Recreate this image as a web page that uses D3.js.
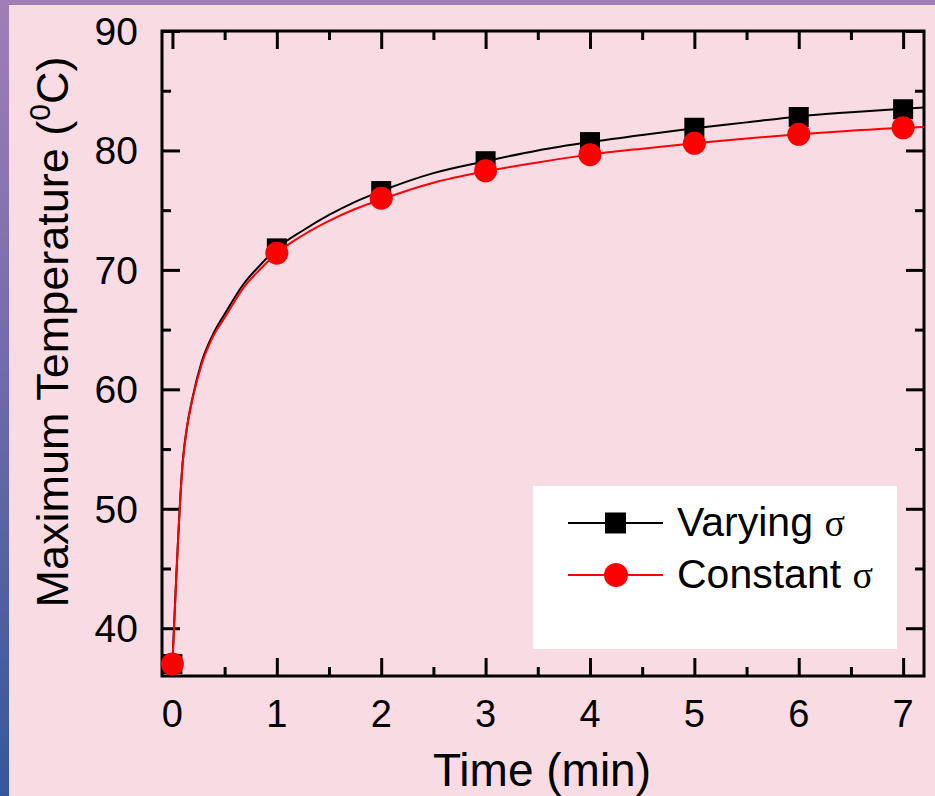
<!DOCTYPE html>
<html>
<head>
<meta charset="utf-8">
<title>Maximum Temperature</title>
<script src="https://cdn.jsdelivr.net/npm/d3@7/dist/d3.min.js"></script>
<style>
  body { margin: 0; background: #fff; }
  svg { display: block; }
</style>
</head>
<body>
<div id="viz"></div>
<script>
// marker data (integer minutes)
var times = [0, 1, 2, 3, 4, 5, 6, 7];
var varyingMarks = [37, 71.8, 76.6, 79.1, 80.7, 81.9, 82.8, 83.45];
var constantMarks = [37, 71.4, 76.0, 78.3, 79.65, 80.6, 81.35, 81.9];

// fine curve data
var curveTimes = [0, 0.1, 0.14, 0.19, 0.28, 0.4, 0.5, 0.68, 0.84, 1.0, 1.25, 1.5, 1.75, 2.0, 2.5, 3.0, 3.5, 4.0, 4.5, 5.0, 5.5, 6.0, 6.5, 7.0, 7.2];
var varyingCurve = [37, 54.1, 56.9, 59.2, 62.3, 64.8, 66.3, 68.8, 70.4, 71.8, 73.3, 74.6, 75.7, 76.6, 78.1, 79.1, 80.0, 80.7, 81.3, 81.85, 82.35, 82.85, 83.2, 83.5, 83.6];
var constantCurve = [37, 54.0, 56.8, 59.1, 62.1, 64.6, 66.0, 68.5, 70.05, 71.4, 72.9, 74.1, 75.1, 75.9, 77.3, 78.25, 79.0, 79.65, 80.15, 80.6, 81.0, 81.35, 81.65, 81.9, 81.97];

var xMajor = [0, 1, 2, 3, 4, 5, 6, 7];
var xMinor = [0.5, 1.5, 2.5, 3.5, 4.5, 5.5, 6.5];
var yMajor = [40, 50, 60, 70, 80, 90];
var yMinor = [45, 55, 65, 75, 85];

var width = 935, height = 796;
var plotLeft = 162, plotRight = 924, plotTop = 31, plotBottom = 676;

var svg = d3.select('#viz').append('svg')
  .attr('width', width)
  .attr('height', height);

// backdrop: purple/blue gradient frame with pink panel
var grad = svg.append('defs').append('linearGradient')
  .attr('id', 'frame').attr('x1', 0).attr('y1', 0).attr('x2', 0).attr('y2', 1);
grad.append('stop').attr('offset', '0%').attr('stop-color', '#a27eb6');
grad.append('stop').attr('offset', '100%').attr('stop-color', '#36569b');
svg.append('rect').attr('width', width).attr('height', height).attr('fill', 'url(#frame)');
svg.append('rect').attr('x', 9).attr('y', 5).attr('width', width - 9).attr('height', height - 5).attr('fill', '#f9dbe4');

var x = d3.scaleLinear().domain([-0.1, 7.2]).range([plotLeft, plotRight]);
var y = d3.scaleLinear().domain([36, 90]).range([plotBottom, plotTop]);

// frame axes with inward ticks on all four sides
function frameAxis(axis, tr) {
  var g = svg.append('g').attr('transform', tr).call(axis);
  g.select('.domain').remove();
  g.selectAll('line').attr('stroke', '#000').attr('stroke-width', 3);
  g.selectAll('text').remove();
  return g;
}
frameAxis(d3.axisBottom(x).tickValues(xMajor).tickSize(-18), `translate(0,${plotBottom})`);
frameAxis(d3.axisBottom(x).tickValues(xMinor).tickSize(-9), `translate(0,${plotBottom})`);
frameAxis(d3.axisTop(x).tickValues(xMajor).tickSize(-18), `translate(0,${plotTop})`);
frameAxis(d3.axisTop(x).tickValues(xMinor).tickSize(-9), `translate(0,${plotTop})`);
frameAxis(d3.axisLeft(y).tickValues(yMajor).tickSize(-18), `translate(${plotLeft},0)`);
frameAxis(d3.axisLeft(y).tickValues(yMinor).tickSize(-9), `translate(${plotLeft},0)`);
frameAxis(d3.axisRight(y).tickValues(yMajor).tickSize(-18), `translate(${plotRight},0)`);
frameAxis(d3.axisRight(y).tickValues(yMinor).tickSize(-9), `translate(${plotRight},0)`);

svg.append('rect')
  .attr('x', plotLeft).attr('y', plotTop)
  .attr('width', plotRight - plotLeft).attr('height', plotBottom - plotTop)
  .attr('fill', 'none').attr('stroke', '#000').attr('stroke-width', 3);

// tick labels
svg.append('g')
  .attr('font-family', 'Liberation Sans, Arial, sans-serif')
  .attr('font-size', 38)
  .attr('text-anchor', 'middle')
  .selectAll('text')
  .data(xMajor)
  .join('text')
  .attr('x', d => x(d))
  .attr('y', 727)
  .text(d => d);
svg.append('g')
  .attr('font-family', 'Liberation Sans, Arial, sans-serif')
  .attr('font-size', 39)
  .attr('text-anchor', 'end')
  .selectAll('text')
  .data(yMajor)
  .join('text')
  .attr('x', 138)
  .attr('y', d => y(d) + 14)
  .text(d => d);

// axis titles
svg.append('text')
  .attr('x', 542).attr('y', 786)
  .attr('text-anchor', 'middle')
  .attr('font-family', 'Liberation Sans, Arial, sans-serif')
  .attr('font-size', 46)
  .text('Time (min)');
var yt = svg.append('text')
  .attr('transform', 'translate(68,332) rotate(-90)')
  .attr('text-anchor', 'middle')
  .attr('font-family', 'Liberation Sans, Arial, sans-serif')
  .attr('font-size', 45);
yt.append('tspan').text('Maximum Temperature (');
yt.append('tspan').attr('font-size', 30).attr('dy', -18).text('0');
yt.append('tspan').attr('dy', 18).text('C)');

// series
var line = d3.line()
  .x((d, i) => x(curveTimes[i]))
  .y(d => y(d))
  .curve(d3.curveMonotoneX);

svg.append('path').datum(varyingCurve)
  .attr('fill', 'none').attr('stroke', '#000').attr('stroke-width', 2)
  .attr('d', line);
svg.append('g').selectAll('rect')
  .data(varyingMarks)
  .join('rect')
  .attr('x', (d, i) => x(times[i]) - 10)
  .attr('y', d => y(d) - 10)
  .attr('width', 20).attr('height', 20)
  .attr('fill', '#000');

svg.append('path').datum(constantCurve)
  .attr('fill', 'none').attr('stroke', '#ff0000').attr('stroke-width', 2)
  .attr('d', line);
svg.append('g').selectAll('circle')
  .data(constantMarks)
  .join('circle')
  .attr('cx', (d, i) => x(times[i]))
  .attr('cy', d => y(d))
  .attr('r', 11.5)
  .attr('fill', '#ff0000');

// legend
var lg = svg.append('g');
lg.append('rect')
  .attr('x', 533).attr('y', 486).attr('width', 364).attr('height', 163)
  .attr('fill', '#fff');
var legendItems = [
  {name: 'Varying ', color: '#000', shape: 'square'},
  {name: 'Constant ', color: '#ff0000', shape: 'circle'}
];
legendItems.forEach(function(d, i) {
  var cy = 523 + i * 52;
  lg.append('line')
    .attr('x1', 568).attr('x2', 663).attr('y1', cy).attr('y2', cy)
    .attr('stroke', d.color).attr('stroke-width', 2);
  if (d.shape === 'square') {
    lg.append('rect').attr('x', 605).attr('y', cy - 10.5).attr('width', 21).attr('height', 21).attr('fill', d.color);
  } else {
    lg.append('circle').attr('cx', 616).attr('cy', cy).attr('r', 12).attr('fill', d.color);
  }
  var t = lg.append('text')
    .attr('x', 677).attr('y', cy + 13)
    .attr('font-family', 'Liberation Sans, Arial, sans-serif')
    .attr('font-size', 41)
    .attr('fill', '#000');
  t.append('tspan').text(d.name);
  t.append('tspan').attr('font-family', 'Liberation Serif, Times New Roman, serif').attr('font-size', 38).text('σ');
});
</script>
</body>
</html>
